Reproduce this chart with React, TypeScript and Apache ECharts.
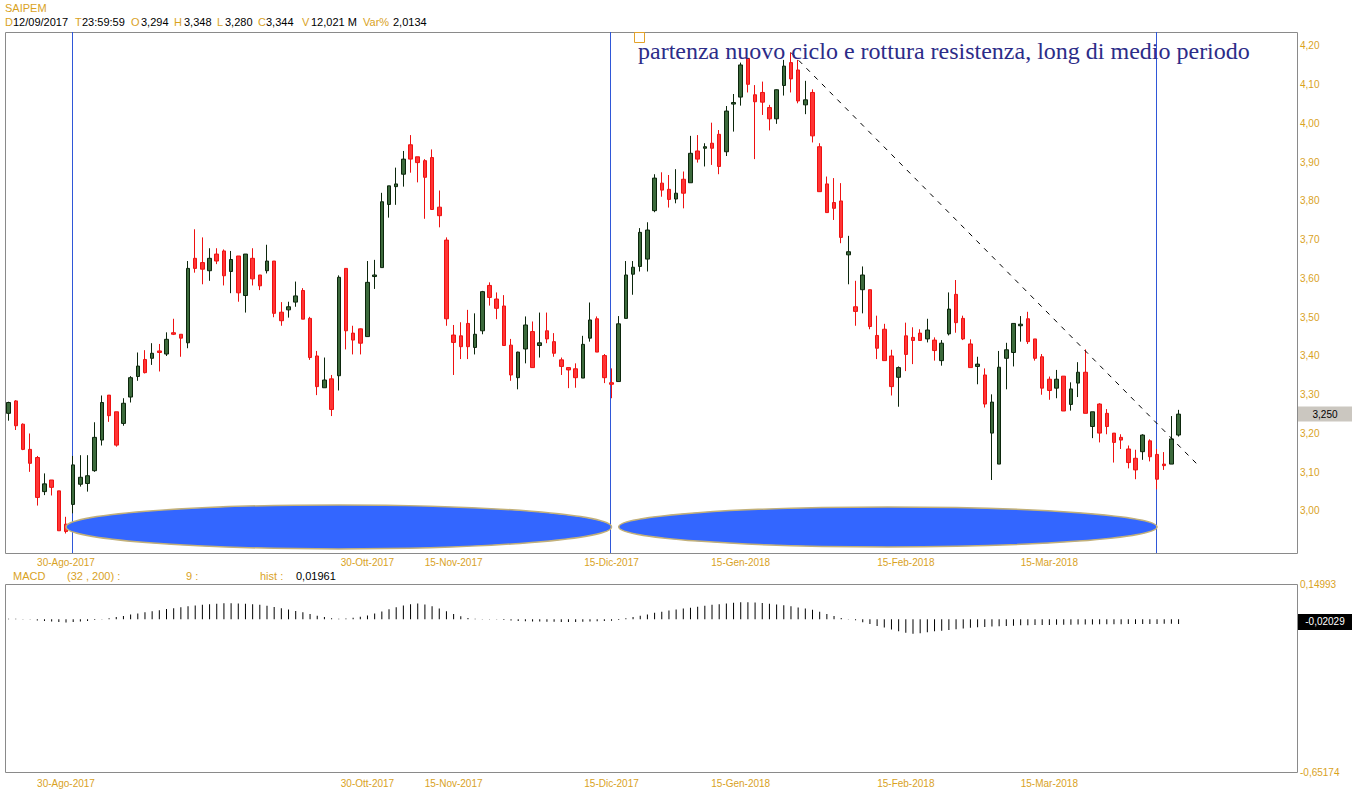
import React, { useEffect, useRef } from 'react';
import * as echarts from 'echarts';

// ---------- DATA ----------
const OPEN = [
  3.252, 3.284, 3.224, 3.159, 3.138, 3.050, 3.080, 3.052, 2.966, 3.017,
  3.069, 3.071, 3.104, 3.183, 3.299, 3.256, 3.226, 3.294, 3.347, 3.391,
  3.394, 3.413, 3.405, 3.460, 3.456, 3.434, 3.652, 3.641, 3.620, 3.663,
  3.671, 3.618, 3.658, 3.556, 3.652, 3.609, 3.620, 3.645, 3.513, 3.519,
  3.539, 3.569, 3.497, 3.400, 3.318, 3.341, 3.349, 3.626, 3.459, 3.470,
  3.450, 3.605, 3.628, 3.791, 3.837, 3.869, 3.945, 3.914, 3.904, 3.912,
  3.784, 3.699, 3.454, 3.452, 3.484, 3.422, 3.465, 3.582, 3.547, 3.529,
  3.428, 3.344, 3.418, 3.463, 3.427, 3.465, 3.437, 3.390, 3.370, 3.367,
  3.343, 3.446, 3.496, 3.401, 3.331, 3.334, 3.497, 3.611, 3.631, 3.650,
  3.775, 3.846, 3.830, 3.805, 3.856, 3.847, 3.929, 3.936, 3.949, 3.972,
  3.927, 4.050, 4.068, 4.168, 4.074, 4.080, 4.041, 4.012, 4.098, 4.157,
  4.138, 4.048, 4.080, 3.940, 3.844, 3.796, 3.800, 3.661, 3.527, 3.571,
  3.571, 3.453, 3.469, 3.400, 3.345, 3.452, 3.448, 3.459, 3.444, 3.441,
  3.388, 3.457, 3.559, 3.497, 3.431, 3.373, 3.351, 3.201, 3.121, 3.394,
  3.409, 3.478, 3.496, 3.444, 3.398, 3.340, 3.317, 3.348, 3.275, 3.330,
  3.358, 3.218, 3.276, 3.252, 3.201, 3.190, 3.160, 3.136, 3.153, 3.181,
  3.146, 3.121, 3.121, 3.196,
];
const CLOSE = [
  3.280, 3.220, 3.159, 3.123, 3.035, 3.070, 3.061, 2.949, 2.947, 3.119,
  3.087, 3.091, 3.190, 3.280, 3.246, 3.170, 3.278, 3.344, 3.374, 3.357,
  3.407, 3.409, 3.443, 3.456, 3.446, 3.626, 3.626, 3.624, 3.652, 3.645,
  3.607, 3.649, 3.563, 3.663, 3.599, 3.581, 3.645, 3.510, 3.491, 3.527,
  3.555, 3.495, 3.396, 3.321, 3.338, 3.262, 3.603, 3.465, 3.441, 3.433,
  3.590, 3.609, 3.798, 3.839, 3.844, 3.908, 3.908, 3.899, 3.861, 3.778,
  3.762, 3.496, 3.435, 3.424, 3.424, 3.456, 3.566, 3.551, 3.523, 3.427,
  3.351, 3.410, 3.480, 3.370, 3.434, 3.444, 3.407, 3.373, 3.364, 3.344,
  3.430, 3.493, 3.410, 3.344, 3.327, 3.483, 3.609, 3.629, 3.719, 3.725,
  3.859, 3.828, 3.804, 3.820, 3.820, 3.923, 3.908, 3.940, 3.936, 3.889,
  4.032, 4.054, 4.151, 4.101, 4.056, 4.055, 4.012, 4.087, 4.148, 4.115,
  4.058, 4.061, 3.968, 3.824, 3.770, 3.781, 3.706, 3.669, 3.515, 3.609,
  3.476, 3.420, 3.388, 3.321, 3.370, 3.404, 3.440, 3.440, 3.467, 3.414,
  3.433, 3.521, 3.486, 3.444, 3.370, 3.379, 3.276, 3.281, 3.371, 3.416,
  3.484, 3.482, 3.437, 3.394, 3.317, 3.311, 3.340, 3.258, 3.315, 3.358,
  3.252, 3.256, 3.201, 3.218, 3.177, 3.183, 3.125, 3.106, 3.196, 3.140,
  3.082, 3.117, 3.186, 3.250,
];
const LOW = [
  3.233, 3.209, 3.157, 3.101, 3.014, 3.041, 3.040, 2.949, 2.942, 2.994,
  3.063, 3.050, 3.101, 3.169, 3.230, 3.166, 3.220, 3.280, 3.336, 3.355,
  3.377, 3.360, 3.400, 3.454, 3.398, 3.420, 3.615, 3.585, 3.594, 3.637,
  3.582, 3.562, 3.540, 3.512, 3.582, 3.570, 3.613, 3.500, 3.478, 3.499,
  3.527, 3.495, 3.390, 3.299, 3.318, 3.245, 3.311, 3.417, 3.404, 3.404,
  3.450, 3.573, 3.628, 3.757, 3.790, 3.837, 3.873, 3.848, 3.754, 3.778,
  3.732, 3.478, 3.351, 3.392, 3.392, 3.404, 3.456, 3.530, 3.495, 3.427,
  3.336, 3.314, 3.381, 3.370, 3.396, 3.433, 3.398, 3.351, 3.317, 3.318,
  3.343, 3.437, 3.410, 3.330, 3.291, 3.334, 3.497, 3.558, 3.618, 3.618,
  3.771, 3.811, 3.783, 3.794, 3.781, 3.847, 3.899, 3.889, 3.893, 3.869,
  3.916, 3.979, 4.046, 4.080, 3.908, 4.022, 3.982, 3.999, 4.072, 4.080,
  4.052, 4.024, 3.951, 3.824, 3.770, 3.751, 3.691, 3.585, 3.478, 3.510,
  3.469, 3.392, 3.388, 3.298, 3.269, 3.361, 3.379, 3.440, 3.435, 3.388,
  3.375, 3.453, 3.460, 3.441, 3.370, 3.327, 3.267, 3.080, 3.121, 3.314,
  3.373, 3.437, 3.431, 3.388, 3.300, 3.287, 3.291, 3.258, 3.259, 3.294,
  3.252, 3.188, 3.177, 3.198, 3.125, 3.160, 3.110, 3.082, 3.132, 3.128,
  3.056, 3.106, 3.121, 3.192,
];
const HIGH = [
  3.282, 3.286, 3.226, 3.200, 3.142, 3.097, 3.080, 3.052, 2.985, 3.142,
  3.144, 3.144, 3.229, 3.298, 3.299, 3.256, 3.291, 3.348, 3.409, 3.415,
  3.433, 3.431, 3.461, 3.496, 3.456, 3.645, 3.727, 3.706, 3.678, 3.678,
  3.675, 3.671, 3.658, 3.663, 3.678, 3.609, 3.687, 3.645, 3.539, 3.540,
  3.592, 3.575, 3.501, 3.413, 3.396, 3.351, 3.608, 3.626, 3.478, 3.471,
  3.645, 3.648, 3.821, 3.839, 3.886, 3.929, 3.970, 3.914, 3.908, 3.933,
  3.827, 3.706, 3.480, 3.487, 3.519, 3.510, 3.568, 3.590, 3.564, 3.557,
  3.444, 3.411, 3.502, 3.489, 3.512, 3.512, 3.459, 3.396, 3.370, 3.381,
  3.452, 3.538, 3.502, 3.405, 3.368, 3.503, 3.645, 3.645, 3.730, 3.745,
  3.869, 3.874, 3.867, 3.882, 3.876, 3.968, 3.970, 3.949, 4.002, 3.983,
  4.045, 4.076, 4.157, 4.168, 4.099, 4.108, 4.048, 4.088, 4.164, 4.183,
  4.164, 4.110, 4.088, 3.949, 3.863, 3.859, 3.846, 3.710, 3.594, 3.631,
  3.571, 3.504, 3.483, 3.416, 3.373, 3.486, 3.474, 3.469, 3.496, 3.448,
  3.441, 3.564, 3.596, 3.504, 3.443, 3.398, 3.368, 3.301, 3.413, 3.434,
  3.484, 3.503, 3.514, 3.444, 3.405, 3.347, 3.364, 3.348, 3.332, 3.384,
  3.417, 3.256, 3.278, 3.263, 3.201, 3.198, 3.169, 3.158, 3.198, 3.185,
  3.160, 3.152, 3.245, 3.261,
];
const HIST = [
  0.002, 0.002, 0.001, 0.001,
  -0.006, -0.008, -0.010, -0.012, -0.014, -0.012, -0.010, -0.008,
  -0.004, -0.001,
  0.004, 0.009, 0.014, 0.0196, 0.024, 0.029, 0.034, 0.038, 0.043, 0.047, 0.051, 0.055,
  0.058, 0.061, 0.064, 0.066, 0.068, 0.068, 0.067, 0.066, 0.064, 0.061,
  0.057, 0.052, 0.047, 0.041, 0.035, 0.029, 0.022, 0.015, 0.009,
  0.004, 0.002, 0.003, 0.006, 0.010, 0.016,
  0.024, 0.033, 0.042, 0.051, 0.058, 0.064, 0.067,
  0.063, 0.055, 0.045, 0.034, 0.022, 0.012,
  0.005, 0.002, 0.001, 0.001, -0.001,
  -0.004, -0.006, -0.008, -0.009, -0.010, -0.010, -0.011, -0.011, -0.012, -0.012, -0.012, -0.011, -0.010, -0.009, -0.008, -0.007, -0.004,
  0.004, 0.009, 0.015, 0.020, 0.027, 0.032, 0.037, 0.041, 0.045, 0.049, 0.053,
  0.057, 0.061, 0.064, 0.067, 0.070, 0.072, 0.072, 0.071, 0.069,
  0.066, 0.063, 0.059, 0.055, 0.050, 0.045, 0.040,
  0.032, 0.022, 0.013, 0.005, 0.001,
  -0.005, -0.013, -0.021, -0.029, -0.036, -0.044, -0.052,
  -0.058, -0.062, -0.060,
  -0.056, -0.052, -0.049, -0.046, -0.043, -0.040, -0.037, -0.035, -0.033,
  -0.031, -0.030, -0.029, -0.028,
  -0.026, -0.026, -0.025, -0.025, -0.025, -0.024, -0.024, -0.024, -0.023, -0.023, -0.023,
  -0.022, -0.022, -0.022, -0.022, -0.021, -0.021, -0.021, -0.021, -0.021, -0.020, -0.020, -0.02029,
];

const N_SLOTS = 180;
const HOLIDAYS = ['2017-12-25', '2017-12-26', '2018-01-01', '2018-03-30', '2018-04-02'];
const CATEGORIES: string[] = (() => {
  const out: string[] = [];
  const d = new Date(Date.UTC(2017, 7, 18));
  while (out.length < N_SLOTS) {
    const iso = d.toISOString().slice(0, 10);
    const wd = d.getUTCDay();
    if (wd !== 0 && wd !== 6 && !HOLIDAYS.includes(iso)) out.push(iso);
    d.setUTCDate(d.getUTCDate() + 1);
  }
  return out;
})();

const TICK_LABELS: [number, string][] = [
  [8, '30-Ago-2017'], [50, '30-Ott-2017'], [62, '15-Nov-2017'], [84, '15-Dic-2017'],
  [102, '15-Gen-2018'], [125, '15-Feb-2018'], [145, '15-Mar-2018'],
];
const CYCLE_MARKS = [9, 84, 160];
const CYCLES: [number, number][] = [[8, 84], [85, 160]];
const TREND: [number, number][] = [[109, 4.183], [166, 3.113]];
const LAST_PRICE = 3.25;
const LAST_HIST = -0.02029;
const PRICE_MIN = 2.9, PRICE_MAX = 4.236, PRICE_STEP = 0.1;
const MACD_MIN = -0.65174, MACD_MAX = 0.14993;
const ANNOTATION = 'partenza nuovo ciclo e rottura resistenza, long di medio periodo';

// ---------- STYLE ----------
const GOLD = '#d9a21e';
const SANS = '"Liberation Sans", Arial, sans-serif';
const FRAME = '#8a8a8a';

const tickMap = new Map<number, string>(TICK_LABELS);
const comma = (v: number, d: number) => v.toFixed(d).replace('.', ',');

export default function App() {
  const ref = useRef<HTMLDivElement>(null);
  useEffect(() => {
    const chart = echarts.init(ref.current!, null, { renderer: 'svg', width: 1352, height: 800 });
    const candles = OPEN.map((o, i) => [o, CLOSE[i], LOW[i], HIGH[i]]);
    const xAxisBase = (g: number, margin: number) => ({
      type: 'category', gridIndex: g, data: CATEGORIES, boundaryGap: true,
      axisLine: { show: false }, axisTick: { show: false }, splitLine: { show: false },
      axisLabel: {
        interval: (i: number) => tickMap.has(i),
        formatter: (_v: string, i: number) => tickMap.get(i) ?? '',
        color: GOLD, fontSize: 10, fontFamily: SANS, margin, hideOverlap: false,
      },
    });
    chart.setOption({
      animation: false,
      backgroundColor: '#ffffff',
      grid: [
        { left: 5, top: 32, width: 1292, height: 517.75, show: false },
        { left: 5, top: 584, width: 1292, height: 188, show: false },
      ],
      xAxis: [xAxisBase(0, 8), xAxisBase(1, 6)],
      yAxis: [
        {
          type: 'value', gridIndex: 0, position: 'right', min: PRICE_MIN, max: PRICE_MAX, interval: PRICE_STEP,
          axisLine: { show: false }, axisTick: { show: false }, splitLine: { show: false },
          axisLabel: {
            margin: 3, color: GOLD, fontSize: 10, fontFamily: SANS,
            formatter: (v: number) => (v < 2.95 || Math.abs(v * 10 - Math.round(v * 10)) > 0.01) ? '' : comma(v, 2),
          },
        },
        {
          type: 'value', gridIndex: 1, position: 'right', min: MACD_MIN, max: MACD_MAX, interval: MACD_MAX - MACD_MIN,
          axisLine: { show: false }, axisTick: { show: false }, splitLine: { show: false },
          axisLabel: {
            margin: 3, color: GOLD, fontSize: 10, fontFamily: SANS,
            formatter: (v: number) => comma(v, 5),
          },
        },
      ],
      series: [
        {
          type: 'candlestick', xAxisIndex: 0, yAxisIndex: 0, data: candles, barWidth: 4, z: 5,
          itemStyle: { color: '#3c6a3c', color0: '#ff3535', borderColor: '#0c260c', borderColor0: '#ee1111', borderWidth: 1 },
        },
        {
          type: 'bar', xAxisIndex: 1, yAxisIndex: 1, data: HIST, barWidth: 1,
          itemStyle: { color: '#000000' },
        },
      ],
    });

    const px = (g: number, i: number, v: number) =>
      chart.convertToPixel({ xAxisIndex: g, yAxisIndex: g } as any, [i, v]) as number[];

    const els: any[] = [];
    const text = (x: number, y: number, t: string, fill: string, font = `11px ${SANS}`, align = 'left', z = 20) =>
      els.push({ type: 'text', x, y, z, style: { text: t, fill, font, align, verticalAlign: 'middle' } });

    // frames
    els.push({ type: 'rect', z: 1, shape: { x: 5.5, y: 32.5, width: 1292, height: 521 }, style: { fill: 'none', stroke: FRAME, lineWidth: 1 } });
    els.push({ type: 'rect', z: 1, shape: { x: 5.5, y: 584.5, width: 1292, height: 188 }, style: { fill: 'none', stroke: FRAME, lineWidth: 1 } });

    // header
    text(5, 8, 'SAIPEM', GOLD);
    const hdr: [number, string, string][] = [
      [5, 'D', GOLD], [13, '12/09/2017', '#000'], [75, 'T', GOLD], [82, '23:59:59', '#000'],
      [131, 'O', GOLD], [141, '3,294', '#000'], [174, 'H', GOLD], [184, '3,348', '#000'],
      [217, 'L', GOLD], [225, '3,280', '#000'], [258, 'C', GOLD], [266, '3,344', '#000'],
      [302, 'V', GOLD], [311, '12,021 M', '#000'], [363, 'Var%', GOLD], [393, '2,0134', '#000'],
    ];
    hdr.forEach(([x, t, c]) => text(x, 22, t, c));

    // MACD header
    text(13, 576, 'MACD', GOLD);
    text(67, 576, '(32 , 200) :', GOLD);
    text(186, 576, '9 :', GOLD);
    text(260, 576, 'hist :', GOLD);
    text(296, 576, '0,01961', '#000');

    // vertical cycle markers (behind candles)
    CYCLE_MARKS.forEach((i) => {
      const x = Math.floor(px(0, i, 3)[0]) - 0.5;
      els.push({ type: 'line', z: 1, shape: { x1: x, y1: 32, x2: x, y2: 553 }, style: { stroke: '#2f57d8', lineWidth: 1 } });
    });

    // ellipses (cycles)
    const ellY = px(0, 0, 2.959)[1];
    CYCLES.forEach(([a, b], k) => {
      const xa = px(0, a, 3)[0], xb = px(0, b, 3)[0];
      els.push({
        type: 'ellipse', z: 8,
        shape: { cx: (xa + xb) / 2, cy: ellY, rx: (xb - xa) / 2, ry: k === 0 ? 22 : 20 },
        style: { fill: '#3366ff', stroke: '#c2b079', lineWidth: 1.5 },
      });
    });

    // trend line
    const p1 = px(0, TREND[0][0], TREND[0][1]);
    const p2 = px(0, TREND[1][0], TREND[1][1]);
    els.push({ type: 'line', z: 9, shape: { x1: p1[0], y1: p1[1], x2: p2[0], y2: p2[1] }, style: { stroke: '#000', lineWidth: 1, lineDash: [5, 6] } });

    // annotation
    els.push({ type: 'rect', z: 10, shape: { x: 634.5, y: 32.5, width: 10, height: 10 }, style: { fill: 'none', stroke: '#e3a22a', lineWidth: 1 } });
    text(638, 51, ANNOTATION, '#2c2c88', `24px "Liberation Serif", "Times New Roman", serif`, 'left', 12);

    // last price label
    const yp = px(0, 0, LAST_PRICE)[1];
    els.push({ type: 'rect', z: 20, shape: { x: 1298, y: yp - 7.5, width: 54, height: 15 }, style: { fill: '#cbc7c0' } });
    text(1325, yp, comma(LAST_PRICE, 3), '#000', `10px ${SANS}`, 'center', 21);

    // last hist label
    const yh = px(1, 0, LAST_HIST)[1] - 2;
    els.push({ type: 'rect', z: 20, shape: { x: 1298, y: yh - 8, width: 54, height: 16 }, style: { fill: '#000' } });
    text(1325, yh, comma(LAST_HIST, 5), '#fff', `10px ${SANS}`, 'center', 21);

    chart.setOption({ graphic: { elements: els } });
    return () => chart.dispose();
  }, []);
  return <div ref={ref} style={{ position: 'absolute', left: 0, top: 0, width: 1352, height: 800 }} />;
}
